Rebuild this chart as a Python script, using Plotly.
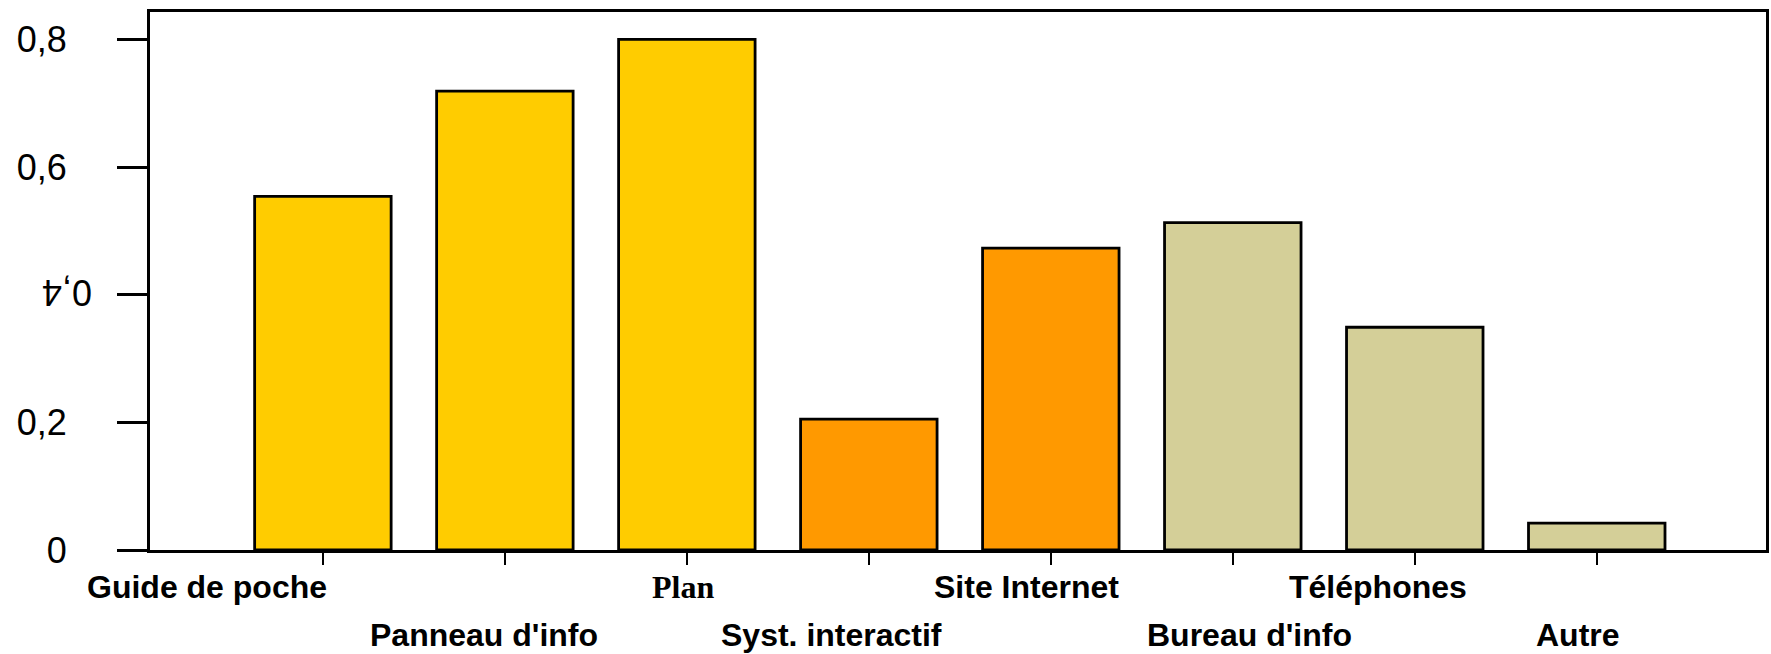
import plotly.graph_objects as go

# ---- data ----
categories = ["Guide de poche", "Panneau d'info", "Plan", "Syst. interactif",
              "Site Internet", "Bureau d'info", "Téléphones", "Autre"]
values = [0.554, 0.719, 0.800, 0.205, 0.473, 0.513, 0.349, 0.042]
groups = ["imprimé", "imprimé", "imprimé", "numérique", "numérique",
          "humain", "humain", "humain"]
y_tick_values = [0, 0.2, 0.4, 0.6, 0.8]
y_tick_labels = ["0", "0,2", "0,4", "0,6", "0,8"]

# ---- styling / layout helpers ----
group_colors = {"imprimé": "#FFCC00", "numérique": "#FF9900", "humain": "#D4CF98"}
label_offsets = [-0.635, -0.115, -0.02, -0.205, -0.135, 0.09, -0.20, -0.105]
label_rows = [0, 1, 0, 1, 0, 1, 0, 1]
row_shift = [-37, -85]
sans = "Liberation Sans, Arial, Helvetica, sans-serif"
serif = "Liberation Serif, Times New Roman, serif"

x_idx = list(range(len(categories)))

fig = go.Figure()
fig.add_trace(go.Bar(
    x=x_idx, y=values,
    width=0.75,
    marker=dict(color=[group_colors[g] for g in groups],
                line=dict(color="black", width=2.8)),
    hovertext=categories,
    showlegend=False,
))

annotations = []
for i, cat in enumerate(categories):
    fam = serif if cat == "Plan" else sans
    annotations.append(dict(
        x=i + label_offsets[i], xref="x",
        y=0, yref="paper", yshift=row_shift[label_rows[i]],
        text=cat, showarrow=False, xanchor="center", yanchor="middle",
        font=dict(family=fam, size=32, color="black", weight="bold"),
    ))

# the upside-down "0,4" tick label
annotations.append(dict(
    x=0, xref="paper", xshift=-83, xanchor="center",
    y=y_tick_values[2], yref="y", yanchor="middle", yshift=2,
    text=y_tick_labels[2], showarrow=False, textangle=180,
    font=dict(family=sans, size=36, color="black"),
))

shown_ticktext = [t if i != 2 else "" for i, t in enumerate(y_tick_labels)]

fig.update_layout(
    width=1771, height=654,
    margin=dict(l=150, r=2, t=12, b=104),
    paper_bgcolor="white", plot_bgcolor="white",
    annotations=annotations,
    xaxis=dict(
        range=[-0.95, 7.93],
        tickvals=x_idx, ticktext=[""] * len(x_idx),
        ticks="outside", ticklen=12, tickwidth=2, tickcolor="black",
        showline=True, linecolor="black", linewidth=3, mirror=True,
        showgrid=False, zeroline=False, fixedrange=True,
    ),
    yaxis=dict(
        range=[0, 0.843],
        tickvals=y_tick_values, ticktext=shown_ticktext,
        ticks="outside", ticklen=30, tickwidth=2.5, tickcolor="black",
        ticklabelstandoff=43,
        tickfont=dict(family=sans, size=36, color="black"),
        showline=True, linecolor="black", linewidth=3, mirror=True,
        showgrid=False, zeroline=False, fixedrange=True,
    ),
)

fig.write_html(
    "out.html",
    config={"displayModeBar": False},
    post_script="document.body.style.margin='0';document.body.style.overflow='hidden';",
)
